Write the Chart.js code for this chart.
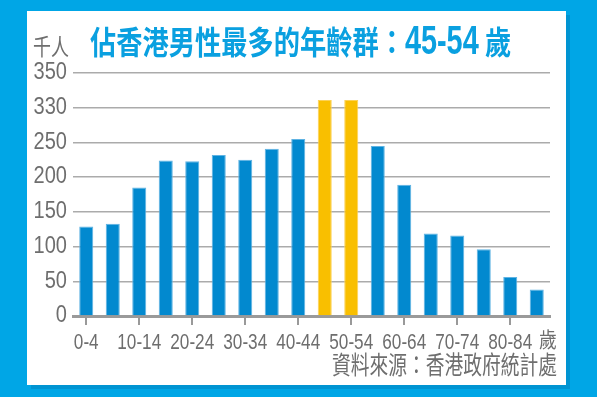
<!DOCTYPE html>
<html>
<head>
<meta charset="utf-8">
<script src="https://cdn.jsdelivr.net/npm/chart.js@4"></script>
<style>
  html, body { margin: 0; padding: 0; }
  body { width: 597px; height: 397px; background: #00a6e6; position: relative; overflow: hidden; }
  #panel { position: absolute; left: 27px; top: 11px; width: 539px; height: 374px; background: #fff; box-shadow: 4px 4px 0 #0094d2; }
  #chart { position: absolute; left: 0; top: 0; }
  .txt { position: absolute; white-space: nowrap; line-height: 1; }
  #title { left: 90px; top: 17px; font: bold 32px 'Noto Sans CJK TC', sans-serif; color: #0aa0e0; transform: scaleX(0.82); transform-origin: left top; }
  #title .num { display: inline-block; font-family: 'Liberation Sans', Arial, sans-serif; font-size: 40px; transform: scaleX(0.88); transform-origin: left bottom; margin-right: -12px; }
  #yUnit { left: 33px; top: 28px; font: 23px 'Noto Sans CJK TC', sans-serif; color: #6e6e6e; transform: scaleX(0.78); transform-origin: left top; }
  #xUnit { left: 539px; top: 323px; font: 21px 'Noto Sans CJK TC', sans-serif; color: #6e6e6e; transform: scaleX(0.85); transform-origin: left top; }
  #source { right: 40px; top: 345px; font: 25px 'Noto Sans CJK TC', sans-serif; color: #6e6e6e; transform: scaleX(0.75); transform-origin: right top; }
</style>
</head>
<body>
<div id="panel"></div>
<canvas id="chart" width="597" height="397"></canvas>
<div class="txt" id="title">佔香港男性最多的年齡群：<span class="num">45-54</span> 歲</div>
<div class="txt" id="yUnit">千人</div>
<div class="txt" id="xUnit">歲</div>
<div class="txt" id="source">資料來源：香港政府統計處</div>
<script>
const ageGroups = ['0-4', '5-9', '10-14', '15-19', '20-24', '25-29', '30-34', '35-39', '40-44',
    '45-49', '50-54', '55-59', '60-64', '65-69', '70-74', '75-79', '80-84', '85+'];
const malesThousands = [129, 133, 185, 224, 223, 232, 225, 241, 255, 311, 311, 245, 189, 119, 116, 96, 56, 38];
const highlightGroups = ['45-49', '50-54'];
const xTickLabels = ['0-4', '', '10-14', '', '20-24', '', '30-34', '', '40-44',
    '', '50-54', '', '60-64', '', '70-74', '', '80-84', ''];
const yTickValues = [0, 50, 100, 150, 200, 250, 300, 350];
const yTickLabels = ['0', '50', '100', '150', '200', '250', '330', '350'];

const tickFont = { family: "'Liberation Sans', Arial, sans-serif", size: 22 };
const isHot = (i) => highlightGroups.includes(ageGroups[i]);
const hasTick = (i) => i % 2 === 0 && i < ageGroups.length - 1;

// no narrow font installed: draw the tick labels squeezed sideways
function squeezeLabels(scale, sx) {
    scale.drawLabels = function (chartArea) {
        const ctx = this.ctx;
        for (const item of this.getLabelItems(chartArea)) {
            const o = item.options;
            ctx.save();
            ctx.translate(o.translation[0], o.translation[1]);
            ctx.scale(sx, 1);
            ctx.font = item.font.string;
            ctx.fillStyle = o.color;
            ctx.textAlign = o.textAlign;
            ctx.textBaseline = o.textBaseline;
            const lines = Array.isArray(item.label) ? item.label : [item.label];
            lines.forEach((l, i) => ctx.fillText(l, 0, item.textOffset + i * item.font.lineHeight));
            ctx.restore();
        }
    };
}

// short marks under the labelled age groups
const tickMarks = {
    id: 'tickMarks',
    afterDatasetsDraw(chart) {
        const x = chart.scales.x, ctx = chart.ctx;
        ctx.save();
        ctx.strokeStyle = '#999';
        ctx.lineWidth = 2;
        ageGroups.forEach((g, i) => {
            if (!hasTick(i)) return;
            const px = Math.round(x.getPixelForValue(i));
            ctx.beginPath();
            ctx.moveTo(px, x.top + 1);
            ctx.lineTo(px, x.top + 9);
            ctx.stroke();
        });
        ctx.restore();
    }
};

new Chart(document.getElementById('chart').getContext('2d'), {
    type: 'bar',
    data: {
        labels: ageGroups,
        datasets: [{
            data: malesThousands,
            backgroundColor: ctx => isHot(ctx.dataIndex) ? '#f9bf00' : '#0289cf',
            borderColor: ctx => isHot(ctx.dataIndex) ? '#fcd257' : '#5fb3e3',
            borderWidth: 1,
            borderSkipped: 'bottom',
            barPercentage: 0.53,
            categoryPercentage: 1
        }]
    },
    options: {
        responsive: false, devicePixelRatio: 1, animation: false,
        layout: { padding: { left: 23, right: 47, top: 73, bottom: 51 } },
        plugins: { legend: { display: false }, tooltip: { enabled: false } },
        scales: {
            x: {
                grid: { display: false },
                border: { display: true, color: '#9a9a9a', width: 3 },
                ticks: {
                    autoSkip: false, maxRotation: 0, padding: 6, color: '#6e6e6e', font: tickFont,
                    callback: (v, i) => xTickLabels[i]
                },
                afterFit: s => { s.height = 30; squeezeLabels(s, 0.78); }
            },
            y: {
                min: 0, max: 350,
                afterBuildTicks: s => { s.ticks = yTickValues.map(v => ({ value: v })); },
                grid: { color: '#ababab', lineWidth: 1.5, drawTicks: false },
                border: { display: false },
                ticks: {
                    padding: 6, color: '#6e6e6e', font: { family: tickFont.family, size: 23 },
                    callback: v => yTickLabels[yTickValues.indexOf(v)]
                },
                afterFit: s => { s.width = 50; squeezeLabels(s, 0.87); }
            }
        }
    },
    plugins: [tickMarks]
});
</script>
</body>
</html>
